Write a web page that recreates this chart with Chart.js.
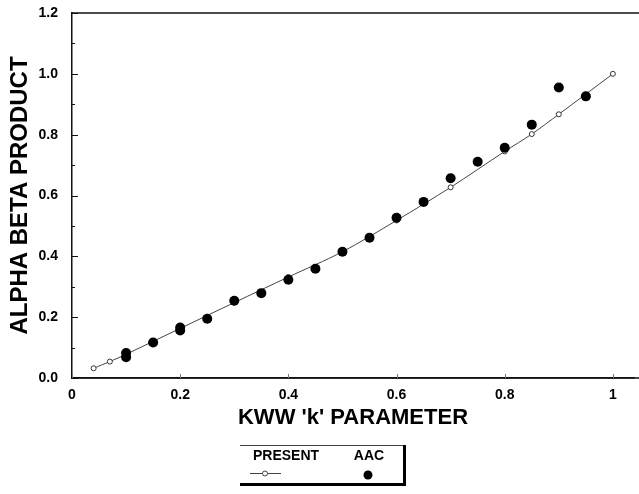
<!DOCTYPE html>
<html>
<head>
<meta charset="utf-8">
<script src="https://cdn.jsdelivr.net/npm/chart.js@4.4.1/dist/chart.umd.min.js"></script>
<style>
  html, body { margin: 0; padding: 0; background: #fff; }
  #wrap { width: 639px; height: 494px; position: relative; }
</style>
</head>
<body>
<div id="wrap"><canvas id="c" width="639" height="494"></canvas></div>
<script>
// ---- Data ----
const presentK  = [0.04, 0.07, 0.1, 0.2, 0.3, 0.4, 0.5, 0.6, 0.7, 0.8, 0.85, 0.9, 1.0];
const presentAB = [0.032, 0.054, 0.078, 0.163, 0.248, 0.332, 0.415, 0.518, 0.627, 0.745, 0.802, 0.867, 1.0];

const aacK  = [0.1, 0.1, 0.15, 0.2, 0.2, 0.25, 0.3, 0.35, 0.4, 0.45, 0.5, 0.55, 0.6, 0.65, 0.7, 0.75, 0.8, 0.85, 0.9, 0.95];
const aacAB = [0.082, 0.068, 0.117, 0.166, 0.156, 0.195, 0.254, 0.279, 0.323, 0.359, 0.415, 0.461, 0.527, 0.579, 0.657, 0.711, 0.757, 0.833, 0.955, 0.926];

const xTickValues = [0, 0.2, 0.4, 0.6, 0.8, 1.0];
const xTickLabels = ['0', '0.2', '0.4', '0.6', '0.8', '1'];
const yTickValues = [0, 0.2, 0.4, 0.6, 0.8, 1.0, 1.2];
const yTickLabels = ['0.0', '0.2', '0.4', '0.6', '0.8', '1.0', '1.2'];
const yMinorValues = [0.1, 0.3, 0.5, 0.7, 0.9, 1.1];

const seriesNames = ['PRESENT', 'AAC'];
const xTitle = "KWW 'k' PARAMETER";
const yTitle = 'ALPHA BETA PRODUCT';

const FONT = "'Liberation Sans', Arial, Helvetica, sans-serif";

const toPts = (xs, ys) => xs.map((x, i) => ({ x: x, y: ys[i] }));

// Inward ticks, frame lines and boxed legend
const framePlugin = {
  id: 'frame',
  afterDraw(chart) {
    const ctx = chart.ctx;
    const a = chart.chartArea;
    const xs = chart.scales.x, ys = chart.scales.y;
    const W = chart.width;
    ctx.save();
    ctx.strokeStyle = '#111';
    ctx.lineWidth = 1.5;
    // top and bottom lines run to the right edge of the picture
    ctx.beginPath();
    ctx.moveTo(a.left, a.top); ctx.lineTo(W, a.top);
    ctx.moveTo(a.left, a.bottom); ctx.lineTo(W, a.bottom);
    ctx.stroke();
    // y ticks (inward)
    ctx.lineWidth = 1;
    yTickValues.forEach(v => {
      const p = Math.round(ys.getPixelForValue(v)) + 0.5;
      ctx.beginPath(); ctx.moveTo(a.left, p); ctx.lineTo(a.left + 6, p); ctx.stroke();
    });
    yMinorValues.forEach(v => {
      const p = Math.round(ys.getPixelForValue(v)) + 0.5;
      ctx.beginPath(); ctx.moveTo(a.left, p); ctx.lineTo(a.left + 3, p); ctx.stroke();
    });
    ctx.strokeStyle = '#777';
    xTickValues.forEach(v => {
      const p = Math.round(xs.getPixelForValue(v)) + 0.5;
      ctx.beginPath(); ctx.moveTo(p, a.bottom); ctx.lineTo(p, a.bottom - 4); ctx.stroke();
    });

    // legend box
    const bx = 240, by = 445, bw = 164, bh = 39;
    ctx.strokeStyle = '#444';
    ctx.lineWidth = 1;
    ctx.beginPath(); ctx.moveTo(bx, by + 0.5); ctx.lineTo(bx + bw, by + 0.5); ctx.stroke();
    ctx.fillStyle = '#000';
    ctx.fillRect(bx + bw - 1, by, 3, bh + 2);
    ctx.fillRect(bx, by + bh - 1, bw + 2, 3);

    const ds = chart.data.datasets;
    ctx.font = "bold 14px " + FONT;
    ctx.textAlign = 'center';
    ctx.textBaseline = 'middle';
    ctx.fillStyle = '#000';
    ctx.fillText(ds[0].label, 286, 456);
    ctx.fillText(ds[1].label, 369, 456);
    // present symbol
    ctx.strokeStyle = ds[0].borderColor;
    ctx.lineWidth = 1;
    ctx.beginPath(); ctx.moveTo(250, 473.5); ctx.lineTo(281, 473.5); ctx.stroke();
    ctx.fillStyle = '#fff';
    ctx.beginPath(); ctx.arc(265, 473.5, 2.5, 0, Math.PI * 2); ctx.fill(); ctx.stroke();
    // aac symbol
    ctx.fillStyle = ds[1].backgroundColor;
    ctx.beginPath(); ctx.arc(368, 475, 4.5, 0, Math.PI * 2); ctx.fill();
    ctx.restore();
  }
};

new Chart(document.getElementById('c'), {
  type: 'scatter',
  data: {
    datasets: [
      {
        label: seriesNames[0],
        data: toPts(presentK, presentAB),
        showLine: true,
        borderColor: '#444',
        borderWidth: 1,
        tension: 0.3,
        pointRadius: 2.5,
        pointBackgroundColor: '#fff',
        pointBorderColor: '#333',
        pointBorderWidth: 1,
        order: 2
      },
      {
        label: seriesNames[1],
        data: toPts(aacK, aacAB),
        showLine: false,
        pointRadius: 5,
        backgroundColor: '#000',
        pointBackgroundColor: '#000',
        pointBorderColor: '#000',
        pointBorderWidth: 0,
        order: 1
      }
    ]
  },
  options: {
    responsive: false,
    animation: false,
    devicePixelRatio: 1,
    layout: { padding: { left: 0, right: 0, top: 13, bottom: 60 } },
    plugins: {
      legend: { display: false },
      tooltip: { enabled: false }
    },
    scales: {
      x: {
        type: 'linear',
        min: 0, max: 1.039,
        grid: { display: false, drawTicks: false },
        border: { display: true, color: '#111', width: 1.5 },
        afterBuildTicks: s => { s.ticks = xTickValues.map(v => ({ value: v })); },
        afterFit: s => { s.height = 56; s.paddingLeft = 0; s.paddingRight = 0; },
        ticks: {
          padding: 9,
          color: '#000',
          font: { family: FONT, size: 14, weight: 'bold' },
          maxRotation: 0,
          callback: (v) => { const i = xTickValues.findIndex(t => Math.abs(t - v) < 1e-9); return i >= 0 ? xTickLabels[i] : ''; }
        },
        title: {
          display: true, text: xTitle, color: '#000',
          font: { family: FONT, size: 22, weight: 'bold' },
          padding: { top: 0, bottom: 3 }
        }
      },
      y: {
        type: 'linear',
        min: 0, max: 1.2,
        grid: { display: false, drawTicks: false },
        border: { display: true, color: '#111', width: 1.5 },
        afterBuildTicks: s => { s.ticks = yTickValues.map(v => ({ value: v })); },
        afterFit: s => { s.width = 72; s.paddingTop = 0; s.paddingBottom = 0; },
        ticks: {
          padding: 14,
          color: '#000',
          font: { family: FONT, size: 14, weight: 'bold' },
          callback: (v) => { const i = yTickValues.findIndex(t => Math.abs(t - v) < 1e-9); return i >= 0 ? yTickLabels[i] : ''; }
        },
        title: {
          display: true, text: yTitle, color: '#000',
          font: { family: FONT, size: 24, weight: 'bold' },
          padding: { top: 6, bottom: 0 }
        }
      }
    }
  },
  plugins: [framePlugin]
});
</script>
</body>
</html>
